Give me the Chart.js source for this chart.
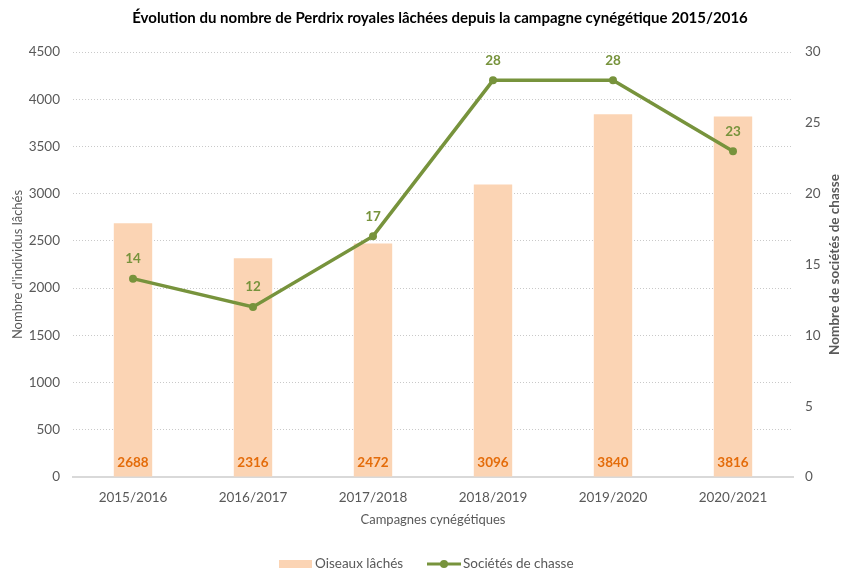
<!DOCTYPE html>
<html lang="fr">
<head>
<meta charset="utf-8">
<script src="https://cdn.jsdelivr.net/npm/chart.js@4/dist/chart.umd.min.js"></script>
<style>
  html, body { margin: 0; padding: 0; background: #fff; }
  #wrap { width: 842px; height: 571px; }
</style>
</head>
<body>
<div id="wrap"><canvas id="c" width="842" height="571"></canvas></div>
<script>
// Campaign seasons and figures
const campagnes = ['2015/2016', '2016/2017', '2017/2018', '2018/2019', '2019/2020', '2020/2021'];
const oiseauxLaches = [2688, 2316, 2472, 3096, 3840, 3816];
const societesChasse = [14, 12, 17, 28, 28, 23];
const ticksOiseaux = [0, 500, 1000, 1500, 2000, 2500, 3000, 3500, 4000, 4500];
const ticksSocietes = [0, 5, 10, 15, 20, 25, 30];

const FONT = 'Lato, "Open Sans", sans-serif';
const GREY = '#595959';
const BAR = '#FBD4B4';
const GREEN = '#77933C';
const ORANGE = '#E46C0A';

// Titles, value labels and legend drawn on the canvas
const decorations = {
  id: 'decorations',
  afterDatasetsDraw(chart) {
    const { ctx, chartArea } = chart;
    ctx.save();
    ctx.textAlign = 'center';
    ctx.textBaseline = 'middle';

    // values at the foot of each bar
    const barMeta = chart.getDatasetMeta(0);
    ctx.font = 'bold 13.5px ' + FONT;
    ctx.fillStyle = ORANGE;
    barMeta.data.forEach((el, i) => {
      ctx.fillText(String(oiseauxLaches[i]), el.x, chartArea.bottom - 14);
    });

    // values above each point of the line
    const lineMeta = chart.getDatasetMeta(1);
    ctx.fillStyle = GREEN;
    lineMeta.data.forEach((el, i) => {
      ctx.fillText(String(societesChasse[i]), el.x, el.y - 20);
    });
    ctx.restore();
  },
  afterDraw(chart) {
    const { ctx, chartArea } = chart;
    const midY = (chartArea.top + chartArea.bottom) / 2;
    const midX = (chartArea.left + chartArea.right) / 2;
    ctx.save();
    ctx.textAlign = 'center';
    ctx.textBaseline = 'middle';

    // main title
    ctx.fillStyle = '#000';
    ctx.font = 'bold 15px ' + FONT;
    ctx.fillText('Évolution du nombre de Perdrix royales lâchées depuis la campagne cynégétique 2015/2016', 440, 18);

    // axis titles
    ctx.fillStyle = GREY;
    ctx.font = '13px ' + FONT;
    ctx.fillText('Campagnes cynégétiques', midX, 520);

    ctx.save();
    ctx.translate(18, midY);
    ctx.rotate(-Math.PI / 2);
    ctx.fillText("Nombre d'individus lâchés", 0, 0);
    ctx.restore();

    ctx.save();
    ctx.translate(835, midY);
    ctx.rotate(-Math.PI / 2);
    ctx.font = 'bold 13.5px ' + FONT;
    ctx.fillText('Nombre de sociétés de chasse', 0, 0);
    ctx.restore();

    // legend
    const ly = 564;
    ctx.textAlign = 'left';
    ctx.font = '13.5px ' + FONT;
    ctx.fillStyle = BAR;
    ctx.fillRect(279, ly - 4, 33, 8);
    ctx.fillStyle = GREY;
    ctx.fillText('Oiseaux lâchés', 315, ly);

    ctx.strokeStyle = GREEN;
    ctx.lineWidth = 3;
    ctx.beginPath();
    ctx.moveTo(427, ly);
    ctx.lineTo(461, ly);
    ctx.stroke();
    ctx.fillStyle = GREEN;
    ctx.beginPath();
    ctx.arc(444, ly, 4, 0, Math.PI * 2);
    ctx.fill();
    ctx.fillStyle = GREY;
    ctx.fillText('Sociétés de chasse', 463, ly);
    ctx.restore();
  }
};

new Chart(document.getElementById('c'), {
  data: {
    labels: campagnes,
    datasets: [
      {
        type: 'bar',
        label: 'Oiseaux lâchés',
        data: oiseauxLaches,
        backgroundColor: BAR,
        borderWidth: 0,
        yAxisID: 'y',
        categoryPercentage: 1,
        barPercentage: 0.32,
        order: 2
      },
      {
        type: 'line',
        label: 'Sociétés de chasse',
        data: societesChasse,
        borderColor: GREEN,
        backgroundColor: GREEN,
        borderWidth: 3.5,
        pointRadius: 4,
        pointBackgroundColor: GREEN,
        pointBorderWidth: 0,
        tension: 0,
        yAxisID: 'y1',
        order: 1
      }
    ]
  },
  options: {
    responsive: false,
    animation: false,
    layout: { padding: { top: 52, bottom: 41, left: 0, right: 0 } },
    plugins: {
      legend: { display: false },
      title: { display: false },
      tooltip: { enabled: false }
    },
    scales: {
      x: {
        grid: { display: false, drawTicks: false },
        border: { display: true, color: '#D9D9D9', width: 2 },
        ticks: { color: GREY, font: { family: FONT, size: 13.5 }, padding: 13 },
        afterFit(s) { s.height = 53; }
      },
      y: {
        position: 'left',
        min: 0,
        max: 4500,
        afterBuildTicks(s) { s.ticks = ticksOiseaux.map(v => ({ value: v })); },
        grid: {
          drawTicks: false,
          color: ctx => (ctx.tick && ctx.tick.value === 0 ? 'rgba(0,0,0,0)' : '#C9C9C9'),
          lineWidth: 1
        },
        border: { display: false, dash: [1, 2] },
        ticks: {
          color: GREY,
          font: { family: FONT, size: 13.5 },
          padding: 13,
          callback: v => String(v)
        },
        afterFit(s) { s.width = 73; }
      },
      y1: {
        position: 'right',
        min: 0,
        max: 30,
        afterBuildTicks(s) { s.ticks = ticksSocietes.map(v => ({ value: v })); },
        grid: { display: false, drawTicks: false },
        border: { display: false },
        ticks: {
          color: GREY,
          font: { family: FONT, size: 13.5 },
          padding: 12,
          callback: v => String(v)
        },
        afterFit(s) { s.width = 49; }
      }
    }
  },
  plugins: [decorations]
});
</script>
</body>
</html>
